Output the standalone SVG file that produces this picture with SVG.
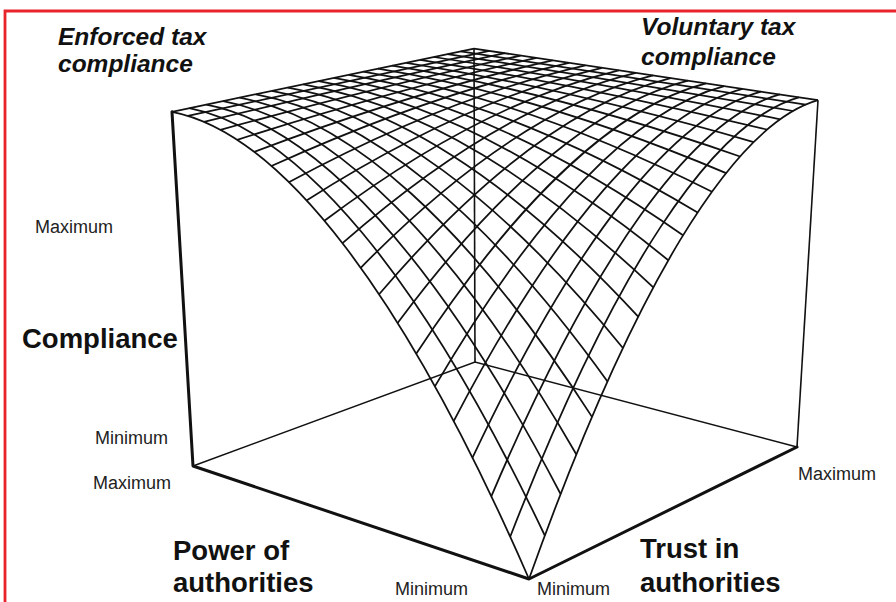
<svg xmlns="http://www.w3.org/2000/svg" width="896" height="602" viewBox="0 0 896 602">
<style>
.mesh path{fill:none;stroke:#111;stroke-width:1.75;stroke-linejoin:round}
.thick{fill:none;stroke:#111;stroke-width:3;stroke-linecap:round;stroke-linejoin:round}
.thin{fill:none;stroke:#111;stroke-width:1.6}
.corner{font-family:"Liberation Sans",Arial,sans-serif;font-weight:bold;font-style:italic;font-size:24.5px;fill:#111}
.axis{font-family:"Liberation Sans",Arial,sans-serif;font-weight:bold;font-size:27.5px;fill:#111}
.tick{font-family:"Liberation Sans",Arial,sans-serif;font-size:18px;fill:#222}
</style>
<rect width="896" height="602" fill="#fff"/>
<g id="frame"><path d="M5,602 V11 H896" fill="none" stroke="#e8232b" stroke-width="2.8"/></g>
<g id="box-back">
<path class="thin" d="M193,466 L475,362 L797,447"/>
<path class="thin" d="M475,362 L474,48.6"/>
<path class="thin" d="M797,447 L818,100.2"/>
</g>
<g id="surface" class="mesh">
<path d="M529,579 C405.1,294.6 281.8,133.2 172,111.8"/>
<path d="M544.8,535.5 C421.5,276.3 299.1,129.3 189.3,108.2"/>
<path d="M560.6,494 C437.7,258.9 316.2,125.4 206.3,104.6"/>
<path d="M576.4,454.5 C453.8,242.4 333,121.6 223.1,101.1"/>
<path d="M592,416.9 C469.7,226.6 349.6,117.9 239.6,97.7"/>
<path d="M607.5,381.4 C485.3,211.7 365.9,114.2 255.9,94.3"/>
<path d="M622.9,348 C500.8,197.6 381.9,110.5 271.9,90.9"/>
<path d="M638.2,316.7 C516.1,184.4 397.7,107 287.7,87.6"/>
<path d="M653.3,287.4 C531.2,171.9 413.2,103.4 303.3,84.3"/>
<path d="M668.3,260.3 C546.1,160.3 428.5,100 318.6,81.1"/>
<path d="M683,235.3 C560.8,149.4 443.5,96.5 333.8,77.9"/>
<path d="M697.6,212.5 C575.3,139.3 458.3,93.2 348.7,74.8"/>
<path d="M712,191.7 C589.6,130 472.9,89.8 363.4,71.7"/>
<path d="M726.1,173.1 C603.7,121.4 487.3,86.5 377.9,68.7"/>
<path d="M740,156.5 C617.5,113.6 501.4,83.3 392.2,65.7"/>
<path d="M753.7,142.1 C631.2,106.6 515.4,80.1 406.3,62.8"/>
<path d="M767.1,129.7 C644.7,100.2 529.1,77 420.2,59.8"/>
<path d="M780.2,119.3 C657.9,94.6 542.6,73.8 433.9,57"/>
<path d="M793.1,111 C671,89.7 556,70.8 447.5,54.1"/>
<path d="M805.7,104.6 C683.8,85.5 569.1,67.8 460.8,51.3"/>
<path d="M818,100.2 L474,48.6"/>
<path d="M529,579 C632.2,290 732,124.7 818,100.2"/>
<path d="M510.2,536.7 C612.9,272.7 712.1,121.6 798.8,97.3"/>
<path d="M491.3,496.3 C593.7,256.2 692.5,118.5 779.8,94.4"/>
<path d="M472.5,457.7 C574.7,240.5 673.2,115.4 761,91.6"/>
<path d="M453.7,421.1 C555.8,225.5 654.2,112.3 742.5,88.8"/>
<path d="M434.9,386.4 C537.2,211.3 635.4,109.3 724.2,86.1"/>
<path d="M416.2,353.7 C518.7,197.9 616.8,106.4 706.1,83.4"/>
<path d="M397.6,323 C500.3,185.3 598.5,103.4 688.2,80.7"/>
<path d="M379.1,294.3 C482.2,173.4 580.4,100.5 670.6,78.1"/>
<path d="M360.7,267.8 C464.3,162.3 562.5,97.7 653.1,75.4"/>
<path d="M342.5,243.2 C446.5,152 544.9,94.8 635.9,72.8"/>
<path d="M324.4,220.8 C428.9,142.4 527.5,92 618.8,70.3"/>
<path d="M306.5,200.4 C411.5,133.6 510.3,89.3 602,67.8"/>
<path d="M288.8,182.2 C394.4,125.5 493.4,86.5 585.4,65.3"/>
<path d="M271.4,166 C377.4,118.2 476.6,83.8 568.9,62.8"/>
<path d="M254.1,151.9 C360.6,111.6 460.1,81.1 552.6,60.4"/>
<path d="M237.2,139.8 C344.1,105.7 443.8,78.5 536.5,57.9"/>
<path d="M220.4,129.8 C327.7,100.6 427.7,75.9 520.6,55.6"/>
<path d="M204,121.8 C311.5,96.1 411.7,73.3 504.9,53.2"/>
<path d="M187.9,115.9 C295.6,92.3 396,70.7 489.4,50.9"/>
<path d="M172,111.8 L474,48.6"/>
</g>
<g id="box-front">
<path class="thick" d="M172,111.8 L193,466 L529,579 L797,447"/>
</g>
<g id="labels">
<text class="corner" x="58" y="45">Enforced tax</text>
<text class="corner" x="58" y="72">compliance</text>
<text class="corner" x="641" y="35">Voluntary tax</text>
<text class="corner" x="641" y="65">compliance</text>
<text class="tick" x="35" y="233">Maximum</text>
<text class="axis" x="22" y="348">Compliance</text>
<text class="tick" x="95" y="444">Minimum</text>
<text class="tick" x="93" y="489">Maximum</text>
<text class="axis" x="173" y="560">Power of</text>
<text class="axis" x="173" y="592">authorities</text>
<text class="tick" x="395" y="595">Minimum</text>
<text class="tick" x="537" y="595">Minimum</text>
<text class="axis" x="640" y="558">Trust in</text>
<text class="axis" x="640" y="592">authorities</text>
<text class="tick" x="798" y="480">Maximum</text>
</g>
</svg>
